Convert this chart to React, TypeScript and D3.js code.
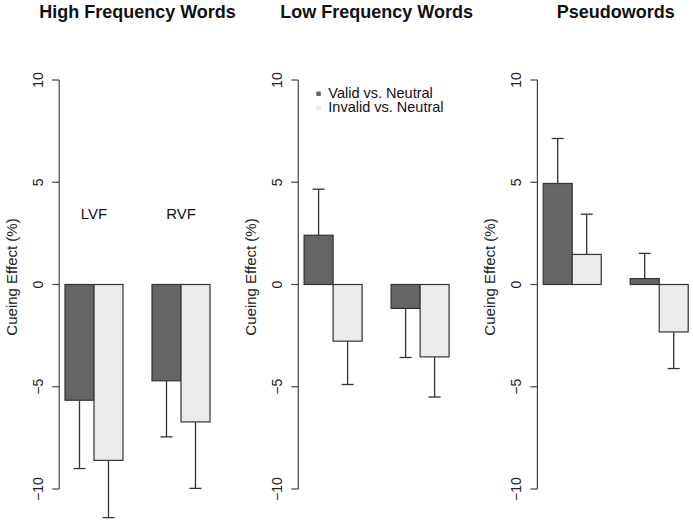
import React from "react";
import * as d3 from "d3";

const panelTitles = ["High Frequency Words", "Low Frequency Words", "Pseudowords"];
const categories = ["LVF", "RVF"];
const seriesNames = ["Valid vs. Neutral", "Invalid vs. Neutral"];
const validMeans = [[-5.66, -4.71], [2.41, -1.17], [4.94, 0.29]];
const validErr = [[3.34, 2.74], [2.25, 2.4], [2.2, 1.23]];
const invalidMeans = [[-8.6, -6.72], [-2.77, -3.54], [1.47, -2.32]];
const invalidErr = [[2.8, 3.25], [2.12, 1.96], [1.97, 1.79]];
const yTicks = [-10, -5, 0, 5, 10];
const seriesColors = ["#656565", "#ebebeb"];

const W = 693;
const H = 523;
const panelLefts = [59.2, 298.3, 537.4];
const plotW = 156.6;
const FONT = "Liberation Sans, Arial, Helvetica, sans-serif";

export default function App() {
  const y = d3.scaleLinear().domain([-10, 10]).range([489, 80]);
  const stroke = "#333";

  return (
    <svg width={W} height={H} style={{ position: "absolute", left: 0, top: 0, background: "#fff" }} fontFamily={FONT}>
      {panelTitles.map((title, p) => {
        const x = d3.scaleLinear().domain([0.8, 6.2]).range([panelLefts[p], panelLefts[p] + plotW]);
        const left = panelLefts[p];
        const series = [
          { means: validMeans[p], errs: validErr[p] },
          { means: invalidMeans[p], errs: invalidErr[p] },
        ];
        return (
          <g key={title}>
            <text x={(x(0.8) + x(6.2)) / 2} y={18} textAnchor="middle" fontWeight="bold" fontSize={18} fill="#111">
              {title}
            </text>
            <line x1={left} x2={left} y1={y(-10)} y2={y(10)} stroke="#444" strokeWidth={1.2} />
            {yTicks.map((t) => (
              <g key={t}>
                <line x1={left - 7} x2={left} y1={y(t)} y2={y(t)} stroke="#444" strokeWidth={1.2} />
                <text
                  transform={`translate(${left - 16},${y(t)}) rotate(-90)`}
                  textAnchor="middle"
                  fontSize={14}
                  fill="#222"
                >
                  {t < 0 ? `\u2212${Math.abs(t)}` : t}
                </text>
              </g>
            ))}
            <text
              transform={`translate(${left - 42},${277}) rotate(-90)`}
              textAnchor="middle"
              fontSize={15}
              fill="#222"
            >
              Cueing Effect (%)
            </text>
            {categories.map((cat, g) =>
              series.map((s, j) => {
                const x0 = x(1 + g * 3 + j);
                const x1 = x(2 + g * 3 + j);
                const v = s.means[g];
                const e = s.errs[g];
                const end = v >= 0 ? v + e : v - e;
                const cx = (x0 + x1) / 2;
                return (
                  <g key={cat + j}>
                    <line x1={cx} x2={cx} y1={y(v)} y2={y(end)} stroke={stroke} strokeWidth={1.3} />
                    <line x1={cx - 6} x2={cx + 6} y1={y(end)} y2={y(end)} stroke={stroke} strokeWidth={1.3} />
                    <rect
                      x={x0}
                      width={x1 - x0}
                      y={Math.min(y(v), y(0))}
                      height={Math.abs(y(v) - y(0))}
                      fill={seriesColors[j]}
                      stroke={stroke}
                      strokeWidth={1.2}
                    />
                  </g>
                );
              })
            )}
            {p === 0 &&
              categories.map((cat, g) => (
                <text key={cat} x={x(2 + g * 3)} y={y(3.5) + 6} textAnchor="middle" fontSize={15} fill="#111">
                  {cat}
                </text>
              ))}
            {p === 1 &&
              seriesNames.map((name, j) => (
                <g key={name}>
                  <rect x={left + 18} y={91.5 + j * 14.5} width={4.5} height={4.5} fill={seriesColors[j]} />
                  <text x={left + 30} y={97.5 + j * 14.5} fontSize={14.5} fill="#111">
                    {name}
                  </text>
                </g>
              ))}
          </g>
        );
      })}
    </svg>
  );
}
